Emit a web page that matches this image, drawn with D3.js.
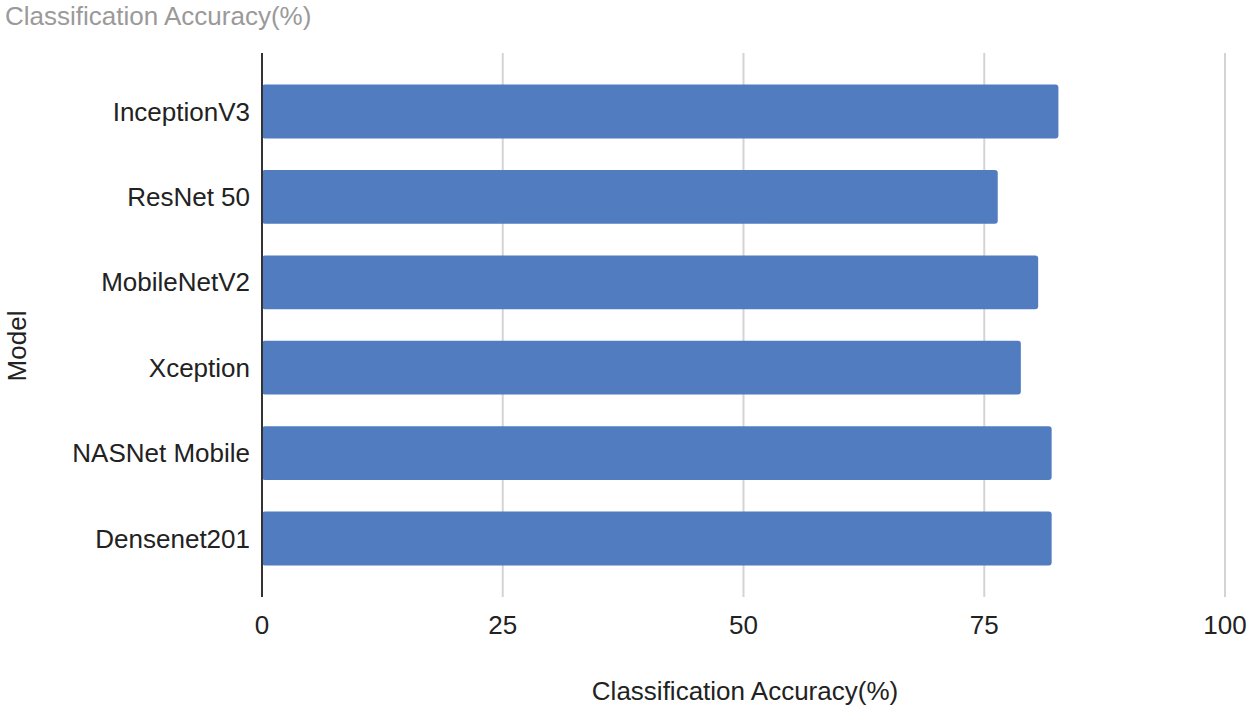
<!DOCTYPE html>
<html>
<head>
<meta charset="utf-8">
<script src="https://cdn.jsdelivr.net/npm/d3@7"></script>
<style>
  body { margin: 0; background: #fff; }
  text { font-family: "Liberation Sans", Arial, sans-serif; }
</style>
</head>
<body>
<svg class="chart"></svg>
<script>
const size = {w: 1250, h: 710};

// data
const models = ['InceptionV3', 'ResNet 50', 'MobileNetV2', 'Xception', 'NASNet Mobile', 'Densenet201'];
const accuracy = [82.7, 76.4, 80.6, 78.8, 82.0, 82.0];
const xTicks = [0, 25, 50, 75, 100];

const plot = {left: 262, right: 1225, top: 53, bottom: 597};

const svg = d3.select('svg.chart')
    .attr('width', size.w)
    .attr('height', size.h);

const xScale = d3.scaleLinear()
    .domain([0, 100])
    .range([plot.left, plot.right]);

const yScale = d3.scaleBand()
    .domain(models)
    .range([plot.top, plot.bottom])
    .padding(0.37);

// vertical gridlines
svg.append('g')
    .selectAll('line')
    .data(xTicks.slice(1))
    .join('line')
    .attr('x1', d => xScale(d))
    .attr('x2', d => xScale(d))
    .attr('y1', plot.top)
    .attr('y2', plot.bottom)
    .attr('stroke', '#d4d4d4')
    .attr('stroke-width', 2);

// bars
svg.append('g')
    .selectAll('rect')
    .data(models.map((m, i) => ({model: m, value: accuracy[i]})))
    .join('rect')
    .attr('x', xScale(0))
    .attr('y', d => yScale(d.model))
    .attr('width', d => xScale(d.value) - xScale(0))
    .attr('height', yScale.bandwidth())
    .attr('rx', 3)
    .attr('fill', '#517cbf');

// y axis line
svg.append('line')
    .attr('x1', plot.left).attr('x2', plot.left)
    .attr('y1', plot.top).attr('y2', plot.bottom)
    .attr('stroke', '#333')
    .attr('stroke-width', 2);

// category labels
svg.append('g')
    .selectAll('text')
    .data(models)
    .join('text')
    .attr('x', plot.left - 12)
    .attr('y', d => yScale(d) + yScale.bandwidth() / 2)
    .attr('dy', '0.35em')
    .attr('text-anchor', 'end')
    .attr('font-size', 26)
    .attr('fill', '#222')
    .text(d => d);

// x tick labels
svg.append('g')
    .selectAll('text')
    .data(xTicks)
    .join('text')
    .attr('x', d => xScale(d))
    .attr('y', 634)
    .attr('text-anchor', 'middle')
    .attr('font-size', 26)
    .attr('fill', '#222')
    .text(d => d);

// axis titles
svg.append('text')
    .attr('x', 745)
    .attr('y', 700)
    .attr('text-anchor', 'middle')
    .attr('font-size', 26)
    .attr('fill', '#222')
    .text('Classification Accuracy(%)');

svg.append('text')
    .attr('transform', 'translate(26,346) rotate(-90)')
    .attr('text-anchor', 'middle')
    .attr('font-size', 26)
    .attr('fill', '#222')
    .text('Model');

// chart title
svg.append('text')
    .attr('x', 5)
    .attr('y', 25)
    .attr('font-size', 26)
    .attr('fill', '#9a9a9a')
    .text('Classification Accuracy(%)');
</script>
</body>
</html>
